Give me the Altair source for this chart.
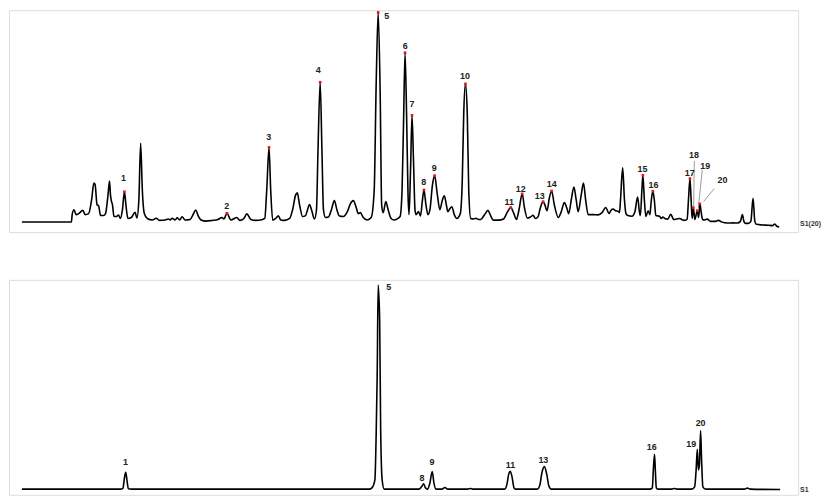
import altair as alt
import pandas as pd

# ---------- top chromatogram (sample S1(20)) ----------
top_t = [21, 70.7, 71.5, 73.3, 75.5, 78, 82.3, 84.5, 88, 91, 93.3, 94.5, 96.5, 98, 100, 103, 105, 107.5, 109, 110, 111, 112,
         113.5, 116, 118, 120, 122, 124, 125.5, 127.5, 131, 134.7, 136.5, 138.5, 140.3, 142, 144, 147, 152, 156, 159,
         165, 168, 170, 172, 175, 177, 179.5, 182, 185, 190, 193, 195.7, 198, 201, 206, 212, 218, 222, 224, 227, 231,
         237, 240, 244, 247, 251, 256, 262, 265, 267, 269.3, 271, 273, 276, 278.7, 281, 285, 290, 293, 296, 297.7, 300,
         303, 306, 308, 310, 312, 315, 317, 318.5, 320.7, 322.5, 324, 326, 329, 332, 335, 337.5, 340, 344, 348, 351,
         354, 357, 359, 361, 364, 368, 372, 375, 377, 379, 381, 382.5, 384, 386.7, 389, 392, 395, 398, 401, 403, 404.5,
         406, 407.5, 409, 410, 411.5, 413, 414.5, 416, 417, 419.5, 421.5, 423.5, 425, 427, 429, 431, 433.5, 435.7, 438.5,
         441, 443.5, 445.5, 447.5, 449, 451, 453, 455.5, 458, 461.5, 463.5, 465, 466.7, 468.5, 470, 472, 475, 477, 480,
         482, 486, 489.3, 492, 494.5, 500, 505, 509, 512.3, 515, 518, 520.5, 523.7, 526, 529, 532, 534.7, 537, 539.5,
         542, 544.7, 546.5, 548.7, 551, 553.3, 556, 560, 563, 566, 568.5, 570.5, 573, 575.7, 578, 580, 583, 585.3, 587.5,
         590, 595, 600, 604, 607.7, 611, 613, 615, 617.5, 620, 621.5, 622.5, 624.7, 626.5, 628, 630, 634, 637, 639.7,
         641.5, 642.5, 644, 645, 646.5, 648, 650.3, 652, 653.5, 655, 656.5, 658, 661.7, 663.5, 665, 667, 670, 673, 676,
         679, 682, 685, 687, 689.5, 690.8, 692.3, 693.5, 694.5, 695.7, 697.2, 699.7, 701, 702.3, 703.5, 705, 707, 709.7,
         713, 717, 721, 724, 730, 736, 740, 743, 745, 746.5, 748, 751, 753.5, 755.7, 757.5, 759, 765, 771, 775, 777.7,
         779.5, 782]
top_i = [10.3, 10.3, 18, 23, 18, 19, 22.3, 18, 19, 33, 50.3, 49, 28, 27, 17, 17, 19, 38, 52.5, 38, 31.5, 28,
         16, 16, 17.5, 14, 23, 41.5, 28, 14, 15, 20.3, 14.5, 33, 91.3, 43, 19, 14, 12.5, 14.3, 12,
         12.5, 13.5, 12.5, 14.3, 12.5, 14.7, 12.5, 15.7, 12.5, 13, 18, 22.7, 17, 12.5, 11.3, 12, 13, 15, 13.5, 19.3, 12.5,
         15, 12, 14, 18.7, 13, 12, 12.7, 14, 43, 87, 43, 12.3, 14, 16.7, 12.5, 12, 14, 23, 38, 40.3, 28,
         16, 17, 23, 28.3, 23, 13.5, 23, 83, 154, 83, 23, 15, 15.5, 23, 32.3, 23, 16.5, 16, 21, 29,
         32.3, 25, 19, 20, 15, 12.5, 15, 43, 153, 225.7, 143, 28, 20, 31.3, 23, 14, 12.5, 13.5, 16, 43, 113,
         184.3, 123, 38, 18, 63, 120, 73, 23, 18, 21, 16.5, 33, 43.3, 28, 18, 23, 48, 58, 38,
         23, 33, 37.3, 28, 21, 24, 26, 18, 14, 19, 53, 123, 152.3, 123, 43, 14, 13.5, 14.3, 13,
         13, 18, 22.3, 17, 12.3, 12.3, 13.5, 21, 25.3, 20, 13, 23, 39.3, 25, 14.3, 15.5, 17.3, 14, 15.5,
         25, 31.3, 28, 22, 35, 42.3, 28, 15, 21, 30.3, 25, 19, 33, 46.3, 33, 21, 38, 50.3, 33,
         18, 18, 17.7, 20, 25.3, 19, 22.5, 23.7, 22, 21.5, 20, 33, 66, 33, 19, 17, 16.3, 21, 36,
         21, 17, 43, 58.3, 33, 16, 22, 18, 33, 42, 33, 17, 16.3, 14, 15.5, 14, 13.3, 18.3, 13,
         13.5, 14, 12.5, 12, 13.5, 33, 55, 33, 14, 25, 13, 22, 15, 29, 21, 13, 12.5, 13.3,
         11, 11, 12, 10.5, 9.3, 9.5, 9.3, 11, 18, 11, 9, 9, 11, 34.7, 11, 8, 7.3, 7, 6.7, 8.3,
         6, 5.3]

top_peak_id = [str(i) for i in range(1, 21)]
top_peak_t = [124, 227, 269.3, 320.7, 379, 406, 413, 425, 435.7, 466.7, 512.3, 523.7, 544.7, 553.3, 645, 655,
              692.3, 695.7, 699.7, 702.3]
top_peak_i = [41.5, 19.3, 87, 154, 225.7, 184.3, 120, 43.3, 58, 152.3, 25.3, 39.3, 31.3, 42.3, 58.3, 42,
              55, 25, 22, 29]
top_label_t = [123, 226.7, 269, 318.7, 387.5, 406.3, 413, 424.7, 435.3, 466.3, 510.7, 522.3, 541.3, 553.3, 644.7,
               655.7, 692, 696.3, 707.7, 725]
top_label_i = [55.7, 27.3, 97.3, 166.3, 222.5, 191.3, 132, 51.3, 65.7, 160.3, 31, 44, 37.3, 49, 65.3, 48,
               60.3, 78.7, 68.3, 53.7]
leader_t = [696.7, 704.7, 716.7]
leader_t2 = [696, 700.7, 706]
leader_i = [73, 64, 44.7]
leader_i2 = [26.3, 25, 31.3]

# ---------- bottom chromatogram (standards S1) ----------
bot_t = [21, 120, 122.5, 124, 125.3, 126.5, 128, 131, 370, 372.7, 375.7, 377, 378, 379, 380.5, 381.5, 383, 385,
         390, 420, 422.5, 424.7, 426.5, 428.5, 431, 433.3, 435, 437, 443, 446, 449, 469, 471.7, 474, 506, 508.5,
         510, 511.7, 513.5, 515.5, 517, 539, 541.5, 543.5, 546, 548.5, 550.5, 553, 652, 654.5, 655.5, 656.7, 657.5,
         658.5, 660, 674, 676.7, 679, 694, 697, 698.5, 699.7, 700.8, 701.8, 703, 704, 705.3, 708, 747, 750, 753, 783]
bot_i = [5.7, 5.7, 6.5, 17, 22.7, 15, 6, 5.7, 5.7, 7, 15, 62, 120, 210.7, 175, 65, 15, 5.7,
         5.7, 5.7, 8, 11, 7, 5.7, 12, 23.3, 12, 5.7, 5.7, 7.3, 5.7, 5.7, 6.3, 5.7, 5.7, 11,
         20, 23.7, 18, 7, 5.7, 5.7, 10, 22, 28.3, 20, 9, 5.7, 5.7, 7, 25, 40.7, 25,
         7, 5.7, 5.7, 6.3, 5.7, 5.7, 8, 25, 45.7, 25, 30, 64.3, 35, 8, 5.7, 5.7, 6.7, 5.7, 5.3]

bot_label = ["1", "5", "8", "9", "11", "13", "16", "19", "20"]
bot_label_t = [125, 389.7, 423, 433, 512, 545, 654, 693.7, 703]
bot_label_i = [32.7, 209, 17.3, 33, 30.3, 35, 48.3, 50.7, 71.7]

sample_names = ["S1(20)", "S1"]

XDOM = [8, 801]
FONT = "Liberation Sans"

xs = alt.Scale(domain=XDOM, nice=False, zero=False)


def panel(trace_t, trace_i, ydom, height, lab_t, lab_i, lab_txt, name, name_i,
          peaks=None, leaders=None):
    ys = alt.Scale(domain=ydom, nice=False, zero=False)
    tr = pd.DataFrame({"t": trace_t, "i": trace_i})
    line = alt.Chart(tr).mark_line(color="black", strokeWidth=1.6, interpolate="monotone", clip=True).encode(
        x=alt.X("t:Q", scale=xs, axis=None),
        y=alt.Y("i:Q", scale=ys, axis=None),
    )
    layers = []
    if leaders is not None:
        ld = pd.DataFrame(leaders)
        layers.append(alt.Chart(ld).mark_rule(color="#9a9a9a", strokeWidth=1).encode(
            x=alt.X("t:Q", scale=xs, axis=None), x2="t2:Q",
            y=alt.Y("i:Q", scale=ys, axis=None), y2="i2:Q"))
    layers.append(line)
    if peaks is not None:
        pk = pd.DataFrame(peaks)
        layers.append(alt.Chart(pk).mark_square(color="#e8141c", size=7, opacity=1).encode(
            x=alt.X("t:Q", scale=xs, axis=None),
            y=alt.Y("i:Q", scale=ys, axis=None)))
    lb = pd.DataFrame({"t": lab_t, "i": lab_i, "txt": lab_txt})
    layers.append(alt.Chart(lb).mark_text(font=FONT, fontSize=9, fontWeight="bold", color="#222",
                                          align="center", baseline="middle").encode(
        x=alt.X("t:Q", scale=xs, axis=None),
        y=alt.Y("i:Q", scale=ys, axis=None),
        text="txt:N"))
    nm = pd.DataFrame({"t": [803], "i": [name_i], "txt": [name]})
    layers.append(alt.Chart(nm).mark_text(font=FONT, fontSize=7, fontWeight="bold", color="#333",
                                          align="left", baseline="middle").encode(
        x=alt.X("t:Q", scale=xs, axis=None),
        y=alt.Y("i:Q", scale=ys, axis=None),
        text="txt:N"))
    return alt.layer(*layers).properties(width=793, height=height)


top = panel(top_t, top_i, [0, 228], 223, top_label_t, top_label_i, top_peak_id, sample_names[0], 8,
            peaks={"t": top_peak_t, "i": top_peak_i},
            leaders={"t": leader_t, "t2": leader_t2, "i": leader_i, "i2": leader_i2})
bottom = panel(bot_t, bot_i, [0, 216], 216, bot_label_t, bot_label_i, bot_label, sample_names[1], 5)

chart = alt.vconcat(top, bottom, spacing=46).properties(padding=0).configure_view(
    stroke="#8c8c8c", strokeWidth=1.5
).configure(background="white")

chart.save("out.html", embed_options={"renderer": "svg", "actions": False})
